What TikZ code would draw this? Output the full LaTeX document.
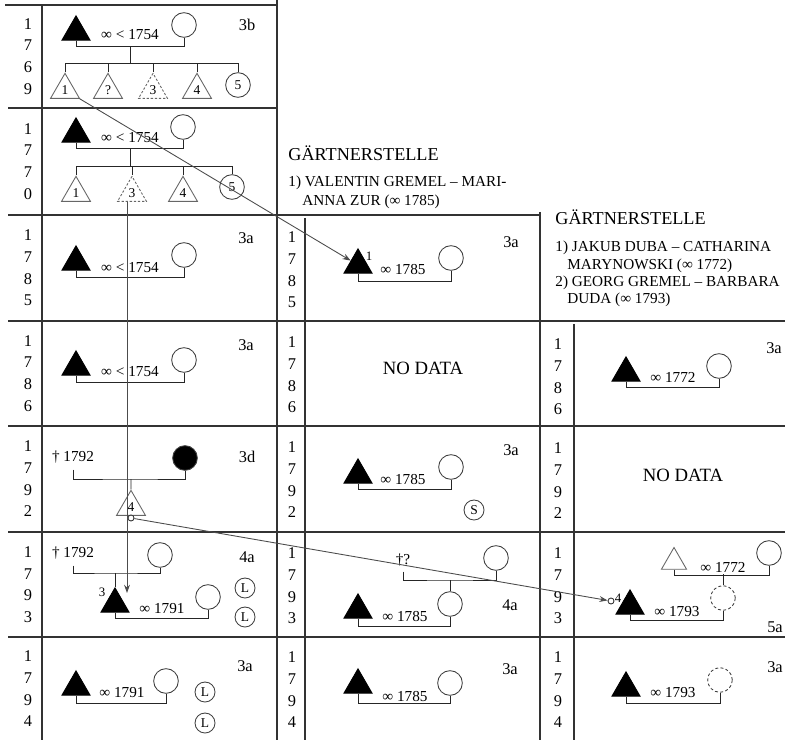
\documentclass[tikz,border=0pt]{standalone}
\usepackage{fontspec}
\setmainfont{Liberation Serif}
\usetikzlibrary{arrows.meta,shapes.geometric,positioning}
\tikzset{every picture/.style={line width=0.75pt}}
\tikzset{
  cellline/.style={draw=black!80, line width=0.9pt},
  tie/.style={draw=black!85, line width=0.75pt},
  link/.style={draw=black!70, line width=0.75pt, -{Stealth[length=7pt,width=5pt]}},
  male/.style={regular polygon, regular polygon sides=3, minimum size=0.97cm, inner sep=0pt, draw=black, fill=black},
  son/.style={regular polygon, regular polygon sides=3, minimum size=1cm, inner sep=0pt, draw=black!60, font=\fontsize{11.5}{11.5}\selectfont},
  lostson/.style={son, dash pattern=on 2pt off 1.5pt},
  wife/.style={circle, minimum size=0.74cm, inner sep=0pt, draw=black!75},
  lostwife/.style={wife, dash pattern=on 2.5pt off 2pt},
  daughter/.style={wife, font=\fontsize{11.5}{11.5}\selectfont},
  badge/.style={circle, minimum size=0.6cm, inner sep=0pt, draw=black!75, font=\fontsize{11.5}{11.5}\selectfont},
  knot/.style={circle, minimum size=0.18cm, inner sep=0pt, draw=black!80, fill=white},
  year/.style={align=center, inner sep=0pt, font=\fontsize{14}{18.5}\selectfont},
  wed/.style={inner sep=0pt, font=\fontsize{13}{13}\selectfont},
  cellcode/.style={inner sep=0pt, font=\fontsize{14}{14}\selectfont},
  farmhead/.style={anchor=west, inner sep=0pt, font=\fontsize{15.5}{15.5}\selectfont},
  owner/.style={anchor=west, inner sep=0pt, font=\fontsize{13}{13}\selectfont},
  nodata/.style={inner sep=0pt, font=\fontsize{16}{16}\selectfont},
  smallno/.style={inner sep=0pt, font=\fontsize{11}{11}\selectfont},
}

\begin{document}
\begin{tikzpicture}[x=0.03cm, y=-0.03cm]
    \useasboundingbox (0,0) rectangle (785,740);

    % table frame
    \draw[cellline] (5,5) -- (277,5);
    \draw[cellline] (42,5) -- (42,740);
    \draw[cellline] (277,0) -- (277,740);
    \draw[cellline] (8,108) -- (277,108);
    \draw[cellline] (8,215) -- (540,215);
    \foreach \y in {321,426,532,637}
        \draw[cellline] (8,\y) -- (785,\y);
    \draw[cellline] (305,218) -- (305,740);
    \draw[cellline] (540,212) -- (540,740);
    \draw[cellline] (574,324) -- (574,740);

    % years
    \node[year] (y69a) at (28,56.5) {1\\7\\6\\9};
    \node[year] (y70a) at (28,161.5) {1\\7\\7\\0};
    \node[year] (y85a) at (28,268) {1\\7\\8\\5};
    \node[year] (y86a) at (28,373.5) {1\\7\\8\\6};
    \node[year] (y92a) at (28,479) {1\\7\\9\\2};
    \node[year] (y93a) at (28,584.5) {1\\7\\9\\3};
    \node[year] (y94a) at (28,689) {1\\7\\9\\4};
    \node[year] (y85b) at (292,270) {1\\7\\8\\5};
    \node[year] (y86b) at (292,375) {1\\7\\8\\6};
    \node[year] (y92b) at (292,480) {1\\7\\9\\2};
    \node[year] (y93b) at (292,586) {1\\7\\9\\3};
    \node[year] (y94b) at (292,690) {1\\7\\9\\4};
    \node[year] (y86c) at (558,377) {1\\7\\8\\6};
    \node[year] (y92c) at (558,481) {1\\7\\9\\2};
    \node[year] (y93c) at (558,586) {1\\7\\9\\3};
    \node[year] (y94c) at (558,690) {1\\7\\9\\4};

    % 1769 left
    \node[male] (m69a) at (76,32) {};
    \node[wife] (w69a) at (184,25) {};
    \node[wed] (e69a) at (130,35) {∞ < 1754};
    \node[cellcode] (t69a) at (247,25) {3b};
    \draw[tie] (m69a.south) -- ++(0,6) -| (w69a.south);
    \node[son] (k69a1) at (65,90) {1};
    \node[son] (k69a2) at (108,90) {?};
    \node[lostson] (k69a3) at (153,90) {3};
    \node[son] (k69a4) at (197,90) {4};
    \node[daughter] (k69a5) at (238,85) {5};
    \coordinate (s69a) at (130,63);
    \draw[tie] (s69a) -- ++(0,-17);
    \draw[tie] (k69a1.north |- s69a) -- (k69a5.north |- s69a);
    \foreach \k in {k69a1,k69a2,k69a3,k69a4,k69a5}
        \draw[tie] (\k.north) -- (\k.north |- s69a);

    % 1770 left
    \node[male] (m70a) at (76,134) {};
    \node[wife] (w70a) at (183,127) {};
    \node[wed] (e70a) at (130,138) {∞ < 1754};
    \draw[tie] (m70a.south) -- ++(0,6) -| (w70a.south);
    \node[son] (k70a1) at (76,193) {1};
    \node[lostson] (k70a3) at (132,193) {3};
    \node[son] (k70a4) at (183,193) {4};
    \node[daughter] (k70a5) at (232,187) {5};
    \coordinate (s70a) at (130,166);
    \draw[tie] (s70a) -- ++(0,-18);
    \draw[tie] (k70a1.north |- s70a) -- (k70a5.north |- s70a);
    \foreach \k in {k70a1,k70a3,k70a4,k70a5}
        \draw[tie] (\k.north) -- (\k.north |- s70a);

    % 1785 and 1786 left
    \node[male] (m85a) at (76,262) {};
    \node[wife] (w85a) at (184,255) {};
    \node[wed] (e85a) at (130,268) {∞ < 1754};
    \node[cellcode] (t85a) at (246,238) {3a};
    \draw[tie] (m85a.south) -- ++(0,7) -| (w85a.south);
    \node[male] (m86a) at (76,367) {};
    \node[wife] (w86a) at (184,360) {};
    \node[wed] (e86a) at (130,372) {∞ < 1754};
    \node[cellcode] (t86a) at (246,345) {3a};
    \draw[tie] (m86a.south) -- ++(0,7) -| (w86a.south);

    % 1792 left
    \node[wed] (d92a) at (73,457) {† 1792};
    \node[wife, fill=black] (w92a) at (185,458) {};
    \node[son] (k92a) at (131,507) {4};
    \node[knot] (o92a) at (131,518) {};
    \node[cellcode] (t92a) at (247,457) {3d};
    \coordinate (b92a) at (131,479);
    \draw[tie] ([yshift=-0.18cm]d92a.south) |- (b92a) -| (w92a.south);
    \draw[tie] (b92a) -- (k92a.north);

    % 1793 left
    \node[wed] (d93a) at (73,553) {† 1792};
    \node[wife] (w93a) at (160,555) {};
    \node[male] (m93a) at (115,604) {};
    \node[smallno] (n93a) at (102,592) {3};
    \node[wife] (v93a) at (208,597) {};
    \node[wed] (e93a) at (162,609) {∞ 1791};
    \node[cellcode] (t93a) at (247,557) {4a};
    \node[badge] (l93a1) at (245,588) {L};
    \node[badge] (l93a2) at (245,617) {L};
    \coordinate (b93a) at (115,573);
    \draw[tie] ([yshift=-0.18cm]d93a.south) |- (b93a) -| (w93a.south);
    \draw[tie] (b93a) -- (m93a.north);
    \draw[tie] (m93a.south) -- ++(0,6) -| (v93a.south);

    % 1794 left
    \node[male] (m94a) at (76,687) {};
    \node[wife] (w94a) at (166,681) {};
    \node[wed] (e94a) at (122,693) {∞ 1791};
    \node[cellcode] (t94a) at (245,666) {3a};
    \node[badge] (l94a1) at (205,692) {L};
    \node[badge] (l94a2) at (205,723) {L};
    \draw[tie] (m94a.south) -- ++(0,8) -| (w94a.south);

    % middle farm
    \node[farmhead] (h1b) at (288,153) {GÄRTNERSTELLE};
    \node[owner] (o1b) at (288,183) {1) VALENTIN GREMEL – MARI-};
    \node[owner] (o2b) at (302,202) {ANNA ZUR (∞ 1785)};
    \node[male] (m85b) at (358,265) {};
    \node[smallno] (n85b) at (369,256) {1};
    \node[wife] (w85b) at (451,258) {};
    \node[wed] (e85b) at (403,270) {∞ 1785};
    \node[cellcode] (t85b) at (511,242) {3a};
    \draw[tie] (m85b.south) -- ++(0,8) -| (w85b.south);
    \node[nodata] (z86b) at (423,368) {NO DATA};
    \node[male] (m92b) at (358,475) {};
    \node[wife] (w92b) at (451,467) {};
    \node[wed] (e92b) at (403,480) {∞ 1785};
    \node[cellcode] (t92b) at (511,450) {3a};
    \node[badge] (s92b) at (474,510) {S};
    \draw[tie] (m92b.south) -- ++(0,6) -| (w92b.south);
    \node[wed] (d93b) at (403,560) {†?};
    \node[wife] (w93b) at (496,558) {};
    \node[wife] (v93b) at (450,604) {};
    \node[male] (m93b) at (358,610) {};
    \node[wed] (e93b) at (405,617) {∞ 1785};
    \node[cellcode] (t93b) at (510,605) {4a};
    \coordinate (b93b) at (450,580);
    \draw[tie] ([yshift=-0.15cm]d93b.south) |- (b93b) -| (w93b.south);
    \draw[tie] (b93b) -- (v93b.north);
    \draw[tie] (m93b.south) -- ++(0,8) -| (v93b.south);
    \node[male] (m94b) at (358,685) {};
    \node[wife] (w94b) at (450,683) {};
    \node[wed] (e94b) at (405,697) {∞ 1785};
    \node[cellcode] (t94b) at (510,669) {3a};
    \draw[tie] (m94b.south) -- ++(0,10) -| (w94b.south);

    % right farm
    \node[farmhead] (h1c) at (555,217) {GÄRTNERSTELLE};
    \node[owner] (o1c) at (555,248) {1) JAKUB DUBA – CATHARINA};
    \node[owner] (o2c) at (567,266) {MARYNOWSKI (∞ 1772)};
    \node[owner] (o3c) at (555,283) {2) GEORG GREMEL – BARBARA};
    \node[owner] (o4c) at (567,300) {DUDA (∞ 1793)};
    \node[male] (m86c) at (626,373) {};
    \node[wife] (w86c) at (719,366) {};
    \node[wed] (e86c) at (673,377) {∞ 1772};
    \node[cellcode] (t86c) at (774,348) {3a};
    \draw[tie] (m86c.south) -- ++(0,6) -| (w86c.south);
    \node[nodata] (z92c) at (683,475) {NO DATA};
    \node[son, minimum size=0.87cm] (p93c) at (674,562) {};
    \node[wife] (w93c) at (769,553) {};
    \node[wed] (f93c) at (723,567) {∞ 1772};
    \node[lostwife] (v93c) at (723,598) {};
    \node[male] (m93c) at (630,606) {};
    \node[knot] (o93c) at (611,601) {};
    \node[smallno] (n93c) at (618,598) {4};
    \node[wed] (e93c) at (677,612) {∞ 1793};
    \node[cellcode] (t93c) at (775,627) {5a};
    \draw[tie] (p93c.south) -- ++(0,6) -| (w93c.south);
    \draw[tie] (v93c.north) -- ++(0,-11);
    \draw[tie] (m93c.south) -- ++(0,6) -| (v93c.south);
    \node[male] (m94c) at (626,688) {};
    \node[lostwife] (w94c) at (720,680) {};
    \node[wed] (e94c) at (673,693) {∞ 1793};
    \node[cellcode] (t94c) at (775,667) {3a};
    \draw[tie] (m94c.south) -- ++(0,7) -| (w94c.south);

    % descent arrows
    \coordinate (x70a) at (127,593);
    \draw[link] (k69a1) -- (m85b);
    \draw[link] (k70a3.south -| x70a) -- (x70a);
    \draw[link] (o92a) -- (o93c);
\end{tikzpicture}
\end{document}
